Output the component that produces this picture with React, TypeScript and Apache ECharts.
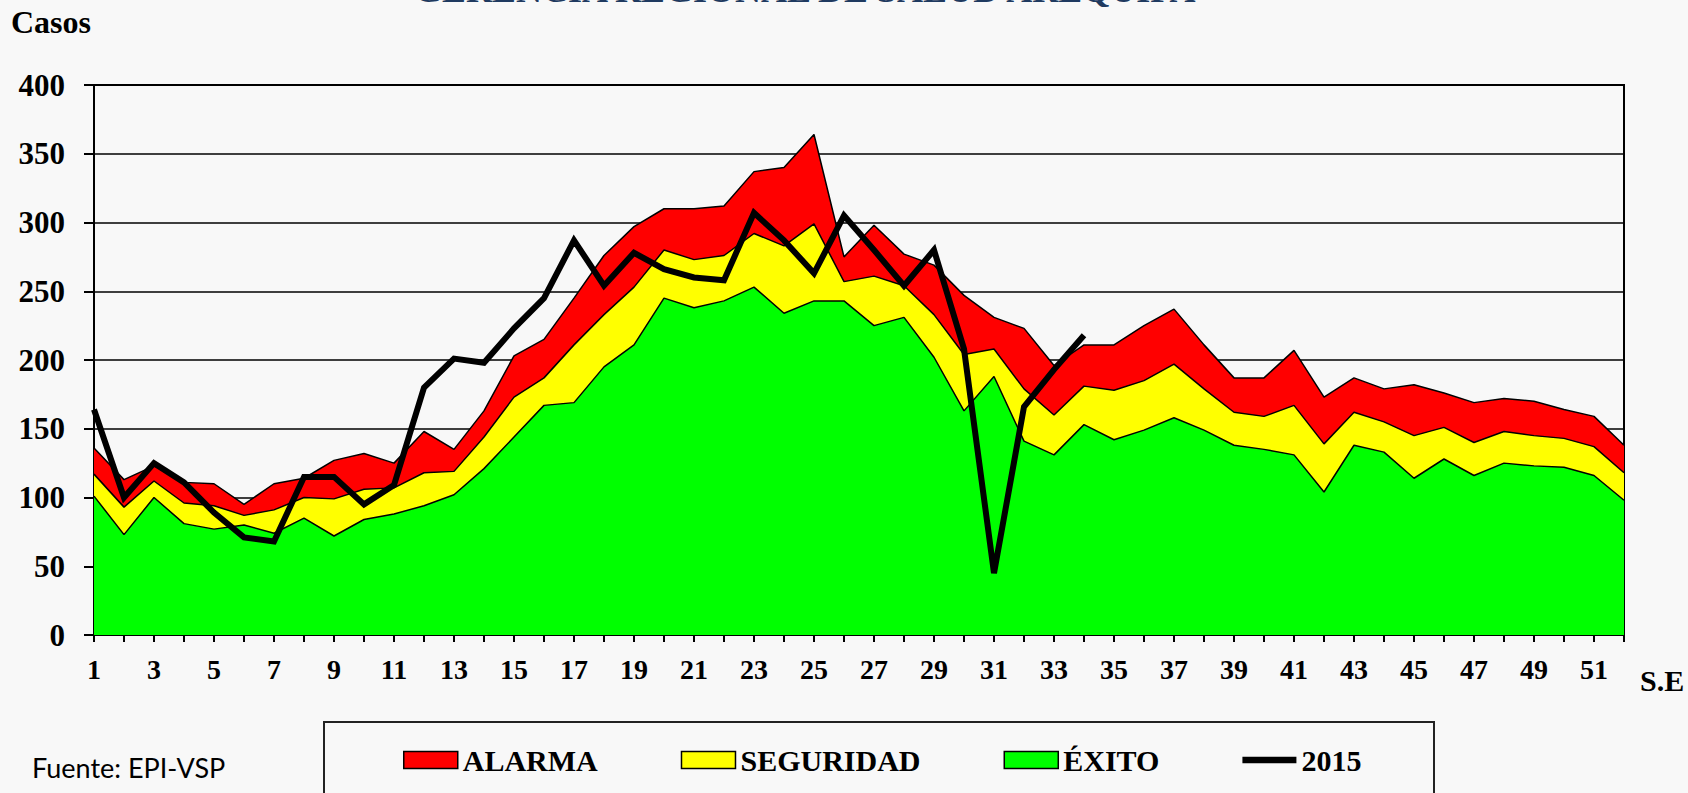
import React, { useEffect, useRef } from "react";
import * as echarts from "echarts";

const weeks = ["1","2","3","4","5","6","7","8","9","10","11","12","13","14","15","16","17","18","19","20","21","22","23","24","25","26","27","28","29","30","31","32","33","34","35","36","37","38","39","40","41","42","43","44","45","46","47","48","49","50","51","52"];

const alarma = [136,113,123,111,110,95,110,114,127,132,125,148,135,163,203,215,245,276,297,310,310,312,337,340,364,275,298,277,269,247,231,223,196,211,211,225,237,211,187,187,207,173,187,179,182,176,169,172,170,164,159,138];

const seguridad = [117,93,112,96,94,87,91,100,99,106,107,118,119,144,173,187,211,233,253,280,273,276,292,283,299,257,261,254,233,204,208,179,160,181,178,185,197,179,162,159,167,139,162,155,145,151,140,148,145,143,137,118];

const exito = [101,73,100,81,77,80,74,85,72,84,88,94,102,121,144,167,169,195,211,245,238,243,253,234,243,243,225,231,202,163,188,141,131,153,142,149,158,149,138,135,131,104,138,133,114,128,116,125,123,122,116,98];

const casos2015 = [164,100,125,111,89,71,68,115,115,95,109,180,201,198,223,245,287,254,278,266,260,258,307,287,263,305,280,254,280,208,45,166,193,218];

const yTicks = { min: 0, max: 400, interval: 50 };

const SERIF = "Liberation Serif";

export default function App() {
  const ref = useRef<HTMLDivElement>(null);

  useEffect(() => {
    if (!ref.current) return;
    const chart = echarts.init(ref.current, null, { renderer: "svg" });
    const areaSeries = (name: string, data: number[], color: string) => ({
      name,
      type: "line",
      data,
      symbol: "none",
      showSymbol: false,
      itemStyle: { color },
      lineStyle: { color: "#000", width: 1.5 },
      areaStyle: { color, opacity: 1 },
      emphasis: { disabled: true },
    });
    chart.setOption({
      animation: false,
      backgroundColor: "#f8f8f8",
      title: {
        text: "GERENCIA REGIONAL DE SALUD AREQUIPA",
        left: 414,
        top: -28,
        padding: 0,
        textStyle: {
          fontFamily: SERIF,
          fontWeight: "bold",
          fontSize: 36,
          color: "#1F3A60",
        },
      },
      grid: {
        left: 94,
        right: 64,
        top: 85,
        bottom: 158,
        show: true,
        borderColor: "#000",
        borderWidth: 2,
        backgroundColor: "transparent",
      },
      legend: {
        left: 403,
        top: 745,
        padding: 0,
        itemWidth: 54,
        itemHeight: 17,
        itemGap: 83,
        textStyle: {
          fontFamily: SERIF,
          fontWeight: "bold",
          fontSize: 30,
          color: "#000",
        },
        data: [
          { name: "ALARMA", icon: "rect", itemStyle: { color: "#ff0000", borderColor: "#000", borderWidth: 1.5 } },
          { name: "SEGURIDAD", icon: "rect", itemStyle: { color: "#ffff00", borderColor: "#000", borderWidth: 1.5 } },
          { name: "ÉXITO", icon: "rect", itemStyle: { color: "#00ff00", borderColor: "#000", borderWidth: 1.5 } },
          { name: "2015", icon: "path://M0,0 L100,0 L100,12 L0,12 Z", itemStyle: { color: "#000", borderWidth: 0 } },
        ],
      },
      xAxis: {
        type: "category",
        data: weeks,
        boundaryGap: false,
        axisLine: { lineStyle: { color: "#000", width: 2 } },
        axisTick: { show: true, interval: 0, length: 7, lineStyle: { color: "#000", width: 2 } },
        axisLabel: {
          interval: 1,
          margin: 20,
          fontFamily: SERIF,
          fontWeight: "bold",
          fontSize: 28,
          color: "#000",
        },
        splitLine: { show: false },
      },
      yAxis: {
        type: "value",
        min: yTicks.min,
        max: yTicks.max,
        interval: yTicks.interval,
        axisLine: { show: true, lineStyle: { color: "#000", width: 2 } },
        axisTick: { show: true, length: 10, lineStyle: { color: "#000", width: 2 } },
        axisLabel: {
          margin: 29,
          fontFamily: SERIF,
          fontWeight: "bold",
          fontSize: 31,
          color: "#000",
        },
        splitLine: { show: true, lineStyle: { color: "#000", width: 1.5 } },
      },
      series: [
        areaSeries("ALARMA", alarma, "#ff0000"),
        areaSeries("SEGURIDAD", seguridad, "#ffff00"),
        areaSeries("ÉXITO", exito, "#00ff00"),
        {
          name: "2015",
          type: "line",
          data: casos2015,
          symbol: "none",
          showSymbol: false,
          itemStyle: { color: "#000" },
          lineStyle: { color: "#000", width: 6, join: "miter" },
          z: 5,
          emphasis: { disabled: true },
        },
      ],
      graphic: [
        {
          type: "text",
          x: 11,
          y: 22,
          style: {
            text: "Casos",
            fontFamily: SERIF,
            fontWeight: "bold",
            fontSize: 32,
            fill: "#000",
            verticalAlign: "middle",
          },
        },
        {
          type: "text",
          x: 1640,
          y: 680,
          style: {
            text: "S.E",
            fontFamily: SERIF,
            fontWeight: "bold",
            fontSize: 30,
            fill: "#000",
            verticalAlign: "middle",
          },
        },
        {
          type: "text",
          x: 32,
          y: 767,
          style: {
            text: "Fuente: EPI-VSP",
            fontFamily: "Lato",
            fontSize: 27,
            fill: "#000",
            verticalAlign: "middle",
          },
        },
        {
          type: "rect",
          shape: { x: 324, y: 722, width: 1110, height: 120 },
          style: { fill: "none", stroke: "#222", lineWidth: 2 },
          z: 10,
        },
      ],
    });
    return () => chart.dispose();
  }, []);

  return (
    <div
      ref={ref}
      style={{ position: "fixed", left: 0, top: 0, width: 1688, height: 793 }}
    />
  );
}
